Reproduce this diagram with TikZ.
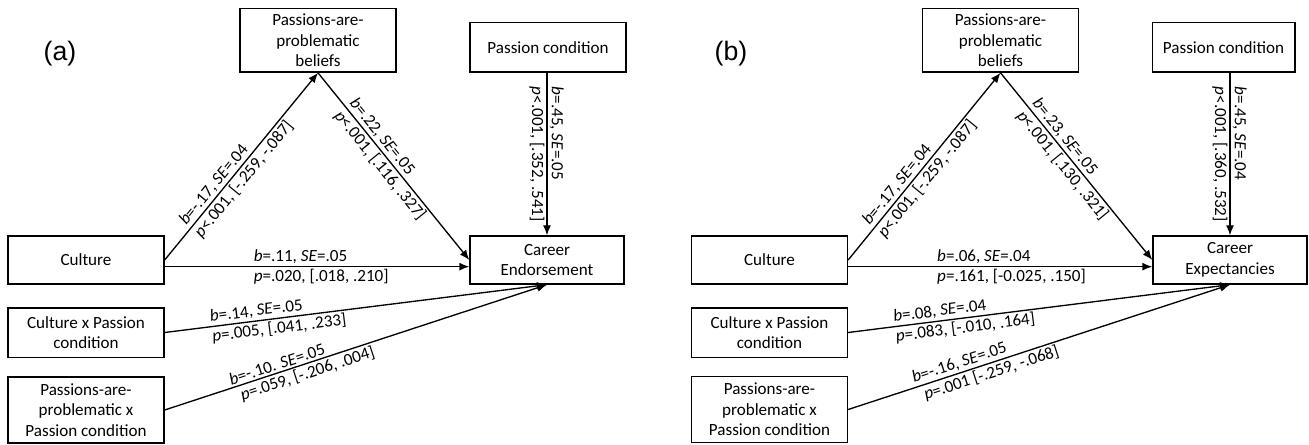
\documentclass[tikz,border=0pt]{standalone}
\usepackage{fontspec}
\setmainfont{Carlito}
\newfontfamily\panelfont{Liberation Sans}
\usetikzlibrary{arrows.meta}

\tikzset{every picture/.style={line width=1pt}}
\tikzset{
  boxtext/.style={font=\fontsize{12.8}{15.4}\selectfont},
  varbox/.style={boxtext, draw, line width=1pt, align=center, inner sep=1pt},
  coef/.style={boxtext, inner sep=1.5pt, rotate=#1},
  coef/.default=0,
  effect/.style={-{Latex[length=7.5pt,width=6pt]}},
  panel/.style={font=\panelfont\fontsize{20}{24}\selectfont}
}

\begin{document}
\begin{tikzpicture}[x=0.75pt,y=0.75pt,yscale=-1,xscale=1]
\path[use as bounding box] (0,0) rectangle (1309,445);

%%% Panel (a)
% Text Node
\node[panel] (labA) at (60,54) {(a)};
%Shape: Rectangle
\node[varbox, minimum width=117pt, minimum height=47.5pt] (papA) at (318,40.5) {Passions-are-\\problematic\\beliefs};
\node[varbox, minimum width=117pt, minimum height=37pt] (pcA) at (548,47.5) {Passion condition};
\node[varbox, minimum width=115.5pt, minimum height=36pt] (carA) at (547,260) {Career\\Endorsement};
\node[varbox, minimum width=117pt, minimum height=36pt] (cultA) at (86,260) {Culture};
\node[varbox, minimum width=117pt, minimum height=37pt] (cxpA) at (86,332.5) {Culture x Passion\\condition};
\node[varbox, minimum width=117pt, minimum height=49.5pt] (pxpA) at (86,410) {Passions-are-\\problematic x\\Passion condition};

% Paths
\draw[effect] (cultA.east) -- (papA.south)
  node[coef=50.7, pos=0.155, anchor=south west] {\textit{b}=-.17, \textit{SE}=.04}
  node[coef=50.7, pos=0.155, anchor=north west] {\textit{p}<.001, [-.259, -.087]};
\draw[effect] (papA.south) -- (carA.west)
  node[coef=-51, pos=0.17, anchor=south west] {\textit{b}=.22, \textit{SE}=.05}
  node[coef=-51, pos=0.17, anchor=north west] {\textit{p}<.001, [.116, .327]};
\draw[effect] (pcA.south -| carA.north) -- (carA.north)
  node[coef=-90, pos=0.07, anchor=south west] {\textit{b}=.45, \textit{SE}=.05}
  node[coef=-90, pos=0.07, anchor=north west] {\textit{p}<.001, [.352, .541]};
\draw[effect] ([yshift=5pt]cultA.east) -- ([yshift=5pt]carA.west)
  node[coef, pos=0.284, anchor=south west] {\textit{b}=.11, \textit{SE}=.05}
  node[coef, pos=0.284, anchor=north west] {\textit{p}=.020, [.018, .210]};
\draw[effect] (cxpA.east) -- (carA.south)
  node[coef=7.2, pos=0.115, anchor=south west] {\textit{b}=.14, \textit{SE}=.05}
  node[coef=7.2, pos=0.115, anchor=north west] {\textit{p}=.005, [.041, .233]};
\draw[effect] (pxpA.east) -- (carA.south)
  node[coef=18.2, pos=0.17, anchor=south west] {\textit{b}=-.10. \textit{SE}=.05}
  node[coef=18.2, pos=0.185, anchor=north west] {\textit{p}=.059, [-.206, .004]};

%%% Panel (b)
% Text Node
\node[panel] (labB) at (731,54) {(b)};
%Shape: Rectangle
\node[varbox, minimum width=117pt, minimum height=47.5pt] (papB) at (1000.5,40.5) {Passions-are-\\problematic\\beliefs};
\node[varbox, minimum width=107pt, minimum height=37pt] (pcB) at (1223.5,47.5) {Passion condition};
\node[varbox, minimum width=115.5pt, minimum height=36pt] (carB) at (1230,260) {Career\\Expectancies};
\node[varbox, minimum width=117pt, minimum height=36pt] (cultB) at (769.5,260) {Culture};
\node[varbox, minimum width=117pt, minimum height=37pt] (cxpB) at (769.5,332.5) {Culture x Passion\\condition};
\node[varbox, minimum width=117pt, minimum height=49.5pt] (pxpB) at (769.5,409.5) {Passions-are-\\problematic x\\Passion condition};

% Paths
\draw[effect] (cultB.east) -- (papB.south)
  node[coef=50.8, pos=0.155, anchor=south west] {\textit{b}=-.17, \textit{SE}=.04}
  node[coef=50.8, pos=0.155, anchor=north west] {\textit{p}<.001, [-.259, -.087]};
\draw[effect] (papB.south) -- (carB.west)
  node[coef=-51, pos=0.17, anchor=south west] {\textit{b}=.23, \textit{SE}=.05}
  node[coef=-51, pos=0.17, anchor=north west] {\textit{p}<.001, [.130, .321]};
\draw[effect] (pcB.south -| carB.north) -- (carB.north)
  node[coef=-90, pos=0.07, anchor=south west] {\textit{b}=.45, \textit{SE}=.04}
  node[coef=-90, pos=0.07, anchor=north west] {\textit{p}<.001, [.360, .532]};
\draw[effect] ([yshift=5pt]cultB.east) -- ([yshift=5pt]carB.west)
  node[coef, pos=0.284, anchor=south west] {\textit{b}=.06, \textit{SE}=.04}
  node[coef, pos=0.284, anchor=north west] {\textit{p}=.161, [-0.025, .150]};
\draw[effect] (cxpB.east) -- (carB.south)
  node[coef=7.2, pos=0.115, anchor=south west] {\textit{b}=.08, \textit{SE}=.04}
  node[coef=7.2, pos=0.115, anchor=north west] {\textit{p}=.083, [-.010, .164]};
\draw[effect] (pxpB.east) -- (carB.south)
  node[coef=18.2, pos=0.17, anchor=south west] {\textit{b}=-.16, \textit{SE}=.05}
  node[coef=18.2, pos=0.185, anchor=north west] {\textit{p}=.001 [-.259, -.068]};

\end{tikzpicture}
\end{document}
